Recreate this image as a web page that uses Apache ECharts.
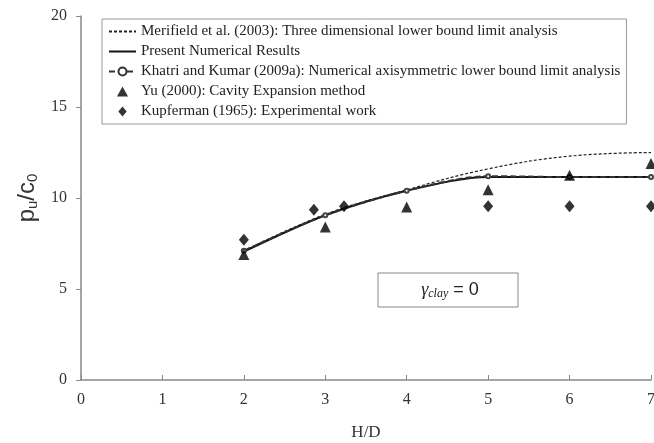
<!DOCTYPE html>
<html>
<head>
<meta charset="utf-8">
<script src="https://cdn.jsdelivr.net/npm/echarts@6/dist/echarts.min.js"></script>
<style>
  html, body { margin: 0; padding: 0; background: #fff; }
  #chart { width: 654px; height: 443px; }
</style>
</head>
<body>
<div id="chart"></div>
<script>
// H/D values
const hdLine = [2, 3, 4, 5, 6, 7];
const merifield = [7.1, 9.1, 10.45, 11.6, 12.3, 12.5];
const present = [7.05, 9.05, 10.4, 11.15, 11.15, 11.15];
const khatri = [7.1, 9.05, 10.4, 11.2, 11.15, 11.15];

const yuX = [2, 3, 4, 5, 6, 7];
const yu = [6.9, 8.4, 9.5, 10.45, 11.25, 11.9];

const kupfermanX = [2, 2.86, 3.23, 5, 6, 7];
const kupferman = [7.7, 9.35, 9.55, 9.55, 9.55, 9.55];

const names = [
  "Merifield et al. (2003): Three dimensional lower bound limit analysis",
  "Present Numerical Results",
  "Khatri and Kumar (2009a): Numerical axisymmetric lower bound limit analysis",
  "Yu (2000): Cavity Expansion method",
  "Kupferman (1965): Experimental work",
];

const pair = (xs, ys) => xs.map((x, i) => [x, ys[i]]);

const serif = "Liberation Serif";
const hidden = { color: "rgba(0,0,0,0)", borderColor: "rgba(0,0,0,0)", borderWidth: 0 };
const chart = echarts.init(document.getElementById("chart"));

chart.setOption({
  animation: false,
  grid: { left: 81, right: 3, top: 16, bottom: 63, outerBoundsMode: "none", containLabel: false },
  legend: {
    orient: "vertical",
    left: 102,
    top: 19,
    padding: [5, 6, 5, 6],
    itemGap: 5,
    itemWidth: 27,
    itemHeight: 10,
    borderColor: "#999",
    borderWidth: 1,
    symbolKeepAspect: true,
    textStyle: { fontFamily: serif, fontSize: 15, color: "#222" },
    data: [
      { name: names[0], itemStyle: hidden },
      { name: names[1], itemStyle: hidden },
      { name: names[2], itemStyle: { color: "#333" } },
      { name: names[3], icon: "path://M0,9L5,0L10,9Z" },
      { name: names[4], icon: "path://M5,0L10,6L5,12L0,6Z" },
    ],
  },
  xAxis: {
    type: "value",
    min: 0,
    max: 7,
    interval: 1,
    name: "H/D",
    nameLocation: "middle",
    nameGap: 44,
    nameTextStyle: { fontFamily: serif, fontSize: 17, color: "#333" },
    splitLine: { show: false },
    axisLine: { lineStyle: { color: "#888", width: 1.5 } },
    axisTick: { inside: true, length: 5, lineStyle: { color: "#888" } },
    axisLabel: { fontFamily: serif, fontSize: 16, color: "#333", margin: 12 },
  },
  yAxis: {
    type: "value",
    min: 0,
    max: 20,
    interval: 5,
    name: "{p|p}{s|u}{p|/c}{s|0}",
    nameLocation: "middle",
    nameGap: 41,
    nameRotate: 90,
    nameTextStyle: {
      rich: {
        p: { fontFamily: "Liberation Sans", fontSize: 24, color: "#333" },
        s: { fontFamily: "Liberation Sans", fontSize: 15, color: "#333", padding: [11, 0, 0, 0] },
      },
    },
    splitLine: { show: false },
    axisLine: { show: true, lineStyle: { color: "#888", width: 1.5 } },
    axisTick: { show: true, length: 5, lineStyle: { color: "#888" } },
    axisLabel: { fontFamily: serif, fontSize: 16, color: "#333", margin: 14 },
  },
  series: [
    {
      name: names[0],
      type: "line",
      smooth: 0.4,
      symbol: "none",
      data: pair(hdLine, merifield),
      lineStyle: { color: "#222", width: 1.2, type: [3, 2] },
      itemStyle: { color: "#222" },
      z: 3,
    },
    {
      name: names[1],
      type: "line",
      smooth: 0.3,
      symbol: "none",
      data: pair(hdLine, present),
      lineStyle: { color: "#111", width: 2 },
      itemStyle: { color: "#111" },
      z: 2,
    },
    {
      name: names[2],
      type: "line",
      smooth: 0.3,
      symbol: "emptyCircle",
      symbolSize: 4,
      data: pair(hdLine, khatri),
      lineStyle: { color: "#333", width: 2, type: [6, 3] },
      itemStyle: { color: "#444", borderWidth: 1 },
      z: 4,
    },
    {
      name: names[3],
      type: "scatter",
      symbol: "triangle",
      symbolSize: 11,
      data: pair(yuX, yu),
      itemStyle: { color: "#000" },
      z: 5,
    },
    {
      name: names[4],
      type: "scatter",
      symbol: "diamond",
      symbolSize: [10, 12],
      data: pair(kupfermanX, kupferman),
      itemStyle: { color: "#000" },
      z: 5,
    },
  ],
  graphic: [
    {
      type: "rect",
      shape: { x: 378, y: 273, width: 140, height: 34 },
      style: { fill: "#fff", stroke: "#888", lineWidth: 1 },
    },
    {
      type: "text",
      x: 450,
      y: 290,
      style: {
        text: "{g|γ}{c|clay}{e| = 0}",
        align: "center",
        verticalAlign: "middle",
        rich: {
          g: { fontFamily: serif, fontStyle: "italic", fontSize: 18, fill: "#222" },
          c: { fontFamily: serif, fontStyle: "italic", fontSize: 12, fill: "#222", padding: [8, 0, 0, 0] },
          e: { fontFamily: "Liberation Sans", fontSize: 18, fill: "#222" },
        },
      },
    },
  ],
});
</script>
</body>
</html>
